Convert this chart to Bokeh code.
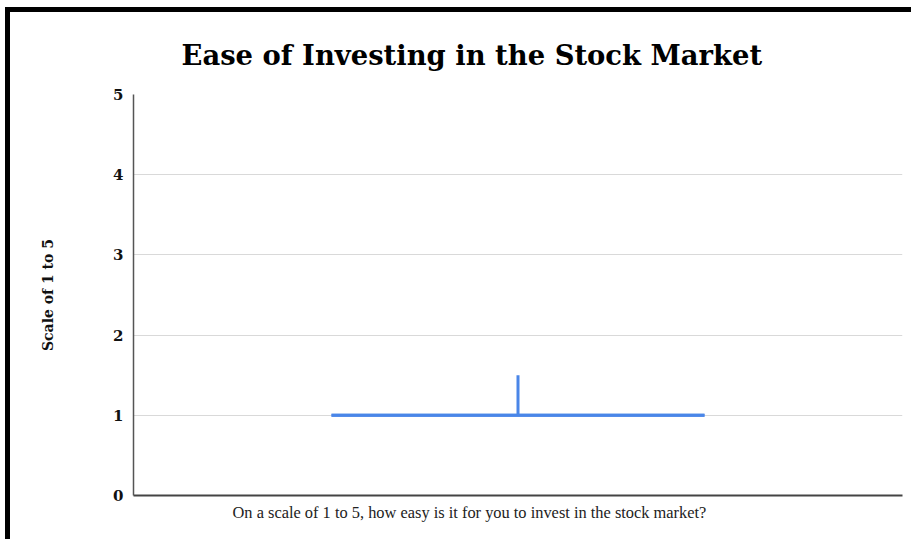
from bokeh.plotting import figure
from bokeh.models import Range1d, FixedTicker, ColumnDataSource, Title
from bokeh.embed import file_html
from bokeh.resources import INLINE

# ---- data ----
title_text = "Ease of Investing in the Stock Market"
x_title = "On a scale of 1 to 5, how easy is it for you to invest in the stock market?"
y_title = "Scale of 1 to 5"
categories = ["Ease"]
lows = [1.0]
opens = [1.0]
closes = [1.0]
highs = [1.5]
y_ticks = [0, 1, 2, 3, 4, 5]

BLUE = "#4a86e8"
box_w = 0.485

xs = list(range(len(categories)))
src = ColumnDataSource(dict(
    x=xs,
    low=lows,
    high=highs,
    top=[max(o, c) for o, c in zip(opens, closes)],
    bottom=[min(o, c) for o, c in zip(opens, closes)],
    left=[x - box_w / 2 for x in xs],
    right=[x + box_w / 2 for x in xs],
))

p = figure(width=906, height=532, output_backend="svg", toolbar_location=None,
           x_range=Range1d(-0.5, 0.5), y_range=Range1d(0, 5),
           min_border_left=123, min_border_right=14, min_border_top=82, min_border_bottom=49)
p.margin = (7, 0, 0, 5)
p.styles = {"border-top": "5px solid black", "border-left": "5px solid black"}
p.outline_line_color = None
p.background_fill_color = "white"
p.border_fill_color = "white"

# whisker
p.segment(x0="x", y0="low", x1="x", y1="high", source=src, line_color=BLUE, line_width=3)
# box (open/close) edges
p.segment(x0="left", y0="top", x1="right", y1="top", source=src, line_color=BLUE, line_width=3)
p.segment(x0="left", y0="bottom", x1="right", y1="bottom", source=src, line_color=BLUE, line_width=3)
p.segment(x0="left", y0="bottom", x1="left", y1="top", source=src, line_color=BLUE, line_width=3)
p.segment(x0="right", y0="bottom", x1="right", y1="top", source=src, line_color=BLUE, line_width=3)

# axes
p.xaxis.ticker = FixedTicker(ticks=[])
p.xaxis.axis_line_color = "#444444"
p.xaxis.axis_line_width = 2
p.xaxis.major_tick_line_color = None
p.xaxis.minor_tick_line_color = None
p.xaxis.major_tick_out = 0
p.xaxis.major_label_standoff = 0

p.yaxis.ticker = FixedTicker(ticks=y_ticks)
p.yaxis.axis_line_color = "#555555"
p.yaxis.axis_line_width = 1.5
p.yaxis.major_tick_line_color = None
p.yaxis.minor_tick_line_color = None
p.yaxis.major_label_standoff = 4
p.yaxis.major_label_text_font = "DejaVu Serif"
p.yaxis.major_label_text_font_style = "bold"
p.yaxis.major_label_text_font_size = "15px"
p.yaxis.major_label_text_color = "#111111"
p.yaxis.axis_label = y_title
p.yaxis.axis_label_text_font = "DejaVu Serif"
p.yaxis.axis_label_text_font_style = "bold"
p.yaxis.axis_label_text_font_size = "14px"
p.yaxis.axis_label_text_color = "#111111"
p.yaxis.axis_label_standoff = 54

p.xgrid.visible = False
p.ygrid.ticker = FixedTicker(ticks=y_ticks)
p.ygrid.grid_line_color = "#d9d9d9"
p.ygrid.grid_line_width = 1

p.add_layout(Title(text=title_text, align="left", offset=48, standoff=47,
                   vertical_align="bottom", text_font="DejaVu Serif",
                   text_font_style="bold", text_font_size="27.4px",
                   text_color="#000000"), "above")
p.add_layout(Title(text=x_title, align="left", offset=99, standoff=14,
                   vertical_align="top", text_font="Liberation Serif",
                   text_font_style="normal", text_font_size="16.4px",
                   text_color="#222222"), "below")

open("out.html", "w").write(file_html(p, INLINE))
